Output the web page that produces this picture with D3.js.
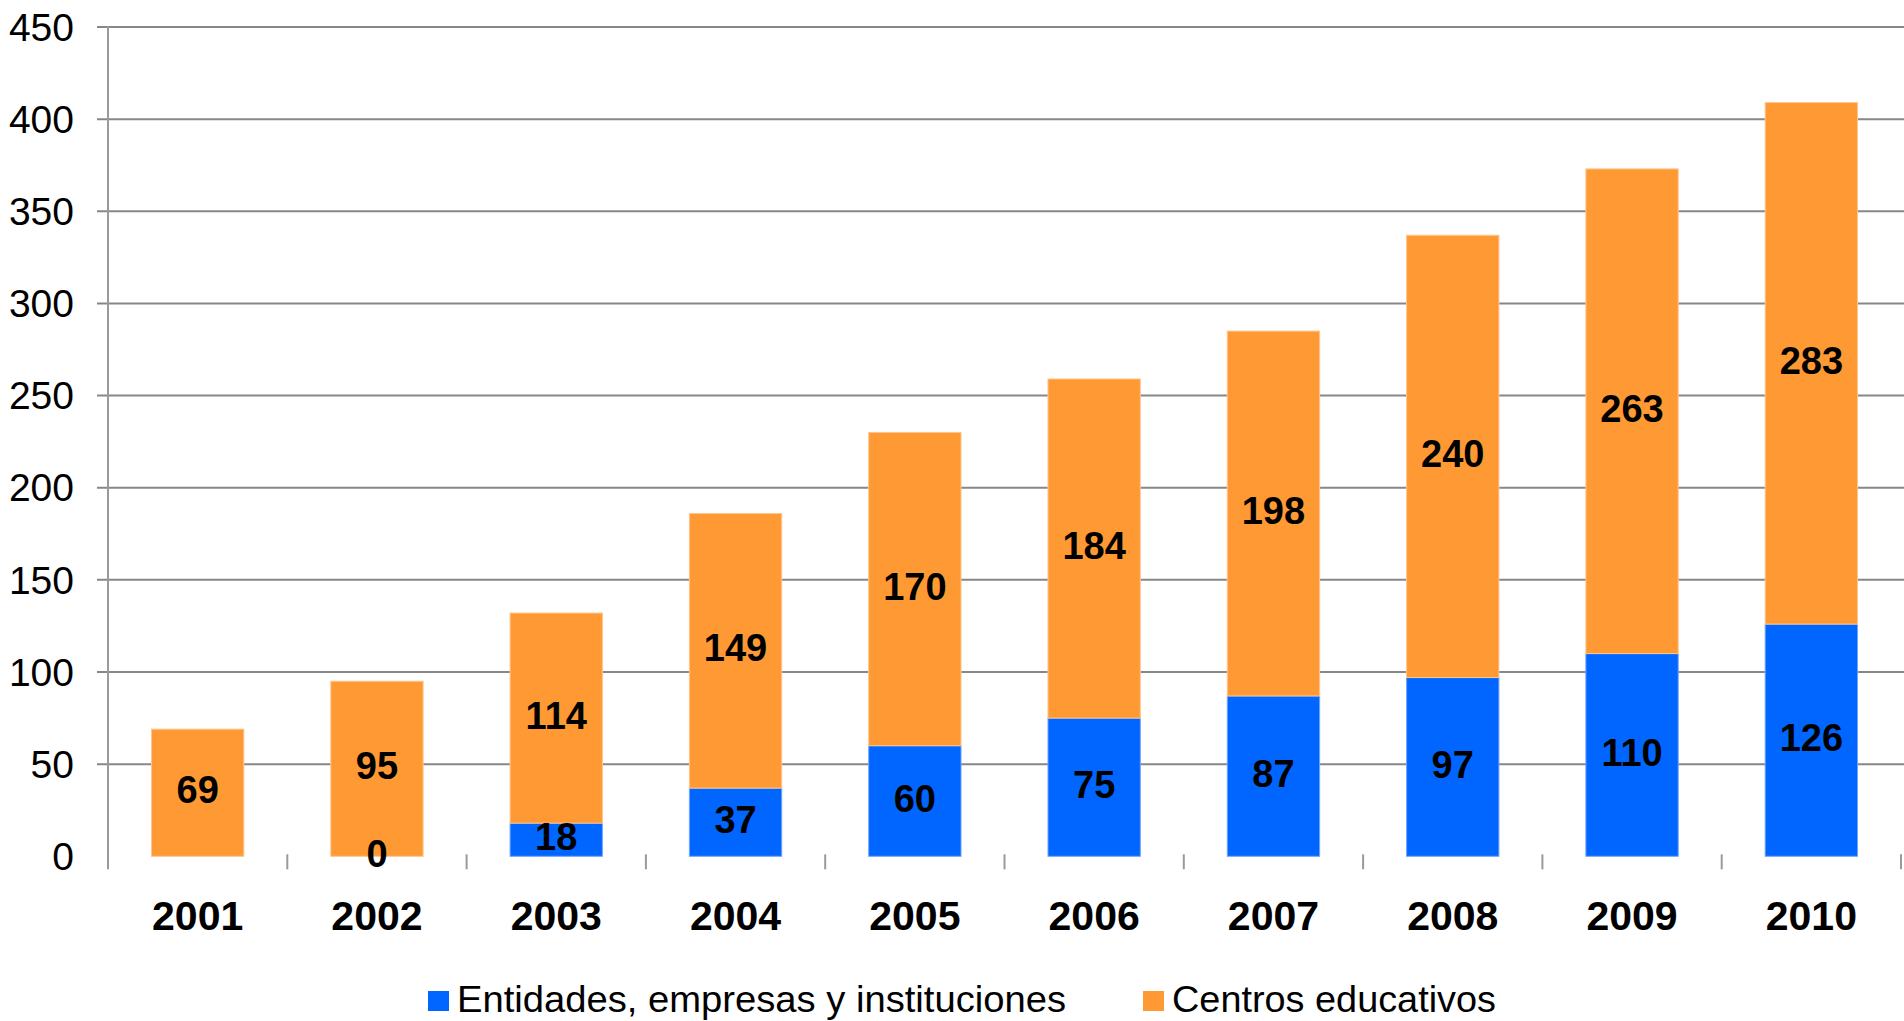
<!DOCTYPE html>
<html>
<head>
<meta charset="utf-8">
<script src="https://cdn.jsdelivr.net/npm/d3@7"></script>
<style>
  html, body { margin: 0; padding: 0; background: #fff; }
  svg { display: block; }
  text { font-family: Arial, "Liberation Sans", Helvetica, sans-serif; fill: #000; }
</style>
</head>
<body>
<svg id="chart" width="1904" height="1021"></svg>
<script>
// ---- Data ----
const years = ["2001","2002","2003","2004","2005","2006","2007","2008","2009","2010"];
const entidades = [null, 0, 18, 37, 60, 75, 87, 97, 110, 126];
const centros = [69, 95, 114, 149, 170, 184, 198, 240, 263, 283];
const yTicks = [0, 50, 100, 150, 200, 250, 300, 350, 400, 450];
const seriesNames = ["Entidades, empresas y instituciones", "Centros educativos"];
const seriesColors = ["#0066FF", "#FF9933"];

(function () {
// ---- Layout ----
const svg = d3.select("#chart");
const plotLeft = 108, plotRight = 1901, plotTop = 27, plotBottom = 856.3;

const x = d3.scaleBand().domain(years).range([plotLeft, plotRight])
  .paddingInner(0.485).paddingOuter(0.2425);
const y = d3.scaleLinear().domain([0, 450]).range([plotBottom, plotTop]);

// gridlines
svg.append("g").selectAll("line")
  .data(yTicks.filter(d => d > 0))
  .join("line")
  .attr("x1", 97).attr("x2", 1904)
  .attr("y1", d => y(d)).attr("y2", d => y(d))
  .attr("stroke", "#878787").attr("stroke-width", 2);

// y axis labels
const yAxis = d3.axisLeft(y).tickValues(yTicks).tickSize(0).tickPadding(34);
const gy = svg.append("g").attr("transform", `translate(${plotLeft},0)`).call(yAxis);
gy.select(".domain").remove();
gy.selectAll("text")
  .attr("font-size", 39).attr("font-family", "Arial, 'Liberation Sans', sans-serif")
  .attr("dy", "0.34em").attr("fill", "#000");

// stacked data
const rows = years.map((yr, i) => ({ year: yr, e: entidades[i], c: centros[i] }));
const stack = d3.stack().keys(["e", "c"]).value((d, k) => d[k] == null ? 0 : d[k]);
const stacked = stack(rows);

const gBars = svg.append("g");
stacked.forEach((s, si) => {
  gBars.append("g").selectAll("rect")
    .data(s.filter(d => d.data[s.key] != null))
    .join("rect")
    .attr("x", d => x(d.data.year))
    .attr("width", x.bandwidth())
    .attr("y", d => y(d[1]))
    .attr("height", d => y(d[0]) - y(d[1]))
    .attr("fill", seriesColors[si])
    .attr("stroke", si === 0 ? "#6fa4ff" : "#ffc590")
    .attr("stroke-width", 1);
});

// y axis line
svg.append("line")
  .attr("x1", plotLeft).attr("x2", plotLeft)
  .attr("y1", y(450) - 1).attr("y2", plotBottom + 13)
  .attr("stroke", "#9a9a9a").attr("stroke-width", 2);

// x tick marks at category boundaries
const step = x.step();
svg.append("g").selectAll("line")
  .data(years)
  .join("line")
  .attr("x1", d => x(d) + x.bandwidth() / 2 + step / 2)
  .attr("x2", d => x(d) + x.bandwidth() / 2 + step / 2)
  .attr("y1", plotBottom - 2).attr("y2", plotBottom + 13)
  .attr("stroke", "#9a9a9a").attr("stroke-width", 2);

// x axis labels
const xAxis = d3.axisBottom(x).tickSize(0).tickPadding(0);
const gx = svg.append("g").attr("transform", `translate(0,${plotBottom})`).call(xAxis);
gx.select(".domain").remove();
gx.selectAll("text")
  .attr("font-size", 41).attr("font-weight", "bold")
  .attr("font-family", "Arial, 'Liberation Sans', sans-serif")
  .attr("y", 74).attr("dy", 0).attr("fill", "#000");

// data labels
stacked.forEach((s) => {
  svg.append("g").selectAll("text")
    .data(s.filter(d => d.data[s.key] != null))
    .join("text")
    .attr("x", d => x(d.data.year) + x.bandwidth() / 2)
    .attr("y", d => (y(d[0]) + y(d[1])) / 2)
    .attr("dy", "0.28em")
    .attr("text-anchor", "middle")
    .attr("font-size", 38).attr("font-weight", "bold")
    .text(d => d.data[s.key]);
});

// legend
const legendItems = [
  { name: seriesNames[0], color: seriesColors[0], x: 428, w: 609 },
  { name: seriesNames[1], color: seriesColors[1], x: 1143, w: 324 }
];
const lg = svg.append("g");
legendItems.forEach(it => {
  lg.append("rect").attr("x", it.x).attr("y", 991).attr("width", 21).attr("height", 20)
    .attr("fill", it.color);
  lg.append("text").attr("x", it.x + 29).attr("y", 1012)
    .attr("font-size", 37)
    .attr("textLength", it.w).attr("lengthAdjust", "spacingAndGlyphs")
    .text(it.name);
});
})();
</script>
</body>
</html>
